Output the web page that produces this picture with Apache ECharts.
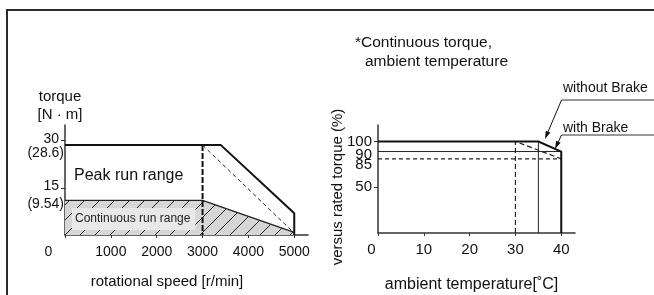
<!DOCTYPE html>
<html>
<head>
<meta charset="utf-8">
<script src="https://cdn.jsdelivr.net/npm/echarts@6/dist/echarts.min.js"></script>
<style>
html, body { margin: 0; padding: 0; background: #fff; }
#chart { width: 654px; height: 295px; }
</style>
</head>
<body>
<div id="chart"></div>
<script>
// 左图：转矩-转速
var speedTicks = [0, 1000, 2000, 3000, 4000, 5000];
var torqueLabels = [30, 28.6, 15, 9.54];
var torqueTicks = [30, 15];
var peakSpeed = [0, 3000, 3400, 5000, 5000];
var peakTorque = [28.6, 28.6, 28.6, 6.9, 0];
var contSpeed = [0, 3000, 5000];
var contTorque = [11, 11, 0.8];
var limitSpeed = [3000, 3000];
var limitTorque = [28.6, 0];
var slopeSpeed = [3000, 5000];
var slopeTorque = [28.6, 0.6];

// 右图：环境温度降额
var tempTicks = [0, 10, 20, 30, 40];
var ratioLabels = [100, 50];
var noBrakeLabel = [90];
var brakeLabel = [85];
var ratioTicks = [100, 50];
var noBrakeTemp = [0, 35, 40, 40];
var noBrakeRatio = [100, 100, 89, 0];
var noBrakeLevelTemp = [0, 40];
var noBrakeLevelRatio = [89, 89];
var kneeTemp = [35, 35];
var kneeRatio = [100, 0];
var brakeTemp = [30, 30, 40];
var brakeRatio = [0, 100, 81];
var brakeLevelTemp = [0, 40];
var brakeLevelRatio = [81, 81];

var FONT = '"Liberation Sans", Arial, Helvetica, sans-serif';
var INK = '#111';

var pairs = function (xs, ys) {
    return xs.map(function (x, i) { return [x, ys[i]]; });
};

// 斜线填充
var hatch = document.createElement('canvas');
hatch.width = 15;
hatch.height = 15;
var hctx = hatch.getContext('2d');
hctx.fillStyle = '#d6d6d6';
hctx.fillRect(0, 0, 15, 15);
hctx.strokeStyle = '#222';
hctx.lineWidth = 1;
hctx.beginPath();
hctx.moveTo(-1, 16);
hctx.lineTo(16, -1);
hctx.stroke();

var lineSeries = function (name, xs, ys, axis, style, extra) {
    var s = {
        name: name,
        type: 'line',
        xAxisIndex: axis,
        yAxisIndex: axis,
        symbol: 'none',
        silent: true,
        animation: false,
        data: pairs(xs, ys),
        lineStyle: style
    };
    if (extra) {
        for (var k in extra) s[k] = extra[k];
    }
    return s;
};

var axisLineStyle = { color: '#333', width: 1.5 };

// 右图 90 / 85 标签挤在一起，各用一根只显示标签的轴
var labelOnlyAxis = function (values, shiftDown) {
    return {
        type: 'value',
        gridIndex: 1,
        position: 'left',
        min: 0,
        max: 118,
        splitLine: { show: false },
        axisLine: { show: false },
        axisTick: { show: false },
        axisLabel: {
            customValues: values,
            margin: 6,
            color: INK,
            formatter: function (v) { return '{s|' + v + '}'; },
            rich: { s: { fontSize: 15, padding: [shiftDown * 2, 0, 0, 0] } }
        }
    };
};

var arrow = function (x1, y1, x2, y2) {
    var dx = x2 - x1, dy = y2 - y1;
    var len = Math.sqrt(dx * dx + dy * dy);
    var ux = dx / len, uy = dy / len;
    var bx = x2 - ux * 8, by = y2 - uy * 8;
    return [{
        type: 'line',
        z: 100,
        shape: { x1: x1, y1: y1, x2: bx, y2: by },
        style: { stroke: INK, lineWidth: 1 }
    }, {
        type: 'polygon',
        z: 100,
        shape: { points: [[x2, y2], [bx - uy * 2.5, by + ux * 2.5], [bx + uy * 2.5, by - ux * 2.5]] },
        style: { fill: INK }
    }];
};

var graphics = [
    { type: 'polyline', shape: { points: [[7, 295], [7, 10], [654, 10]] }, style: { stroke: '#2b2b2b', lineWidth: 2, fill: null } },
    { type: 'text', z: 100, x: 74, y: 176, style: { text: 'Peak run range', font: '16px ' + FONT, fill: INK, verticalAlign: 'middle' } },
    { type: 'text', z: 100, x: 72, y: 219, style: { text: 'Continuous run range', font: '12px ' + FONT, fill: '#222', verticalAlign: 'middle', backgroundColor: '#e8e8e8', padding: [5, 5, 5, 3] } },
    { type: 'text', z: 100, x: 355, y: 43, style: { text: '*Continuous torque,', font: '15.5px ' + FONT, fill: INK, verticalAlign: 'middle' } },
    { type: 'text', z: 100, x: 365, y: 62, style: { text: 'ambient temperature', font: '15.5px ' + FONT, fill: INK, verticalAlign: 'middle' } },
    { type: 'text', z: 100, x: 338, y: 187, rotation: Math.PI / 2, style: { text: 'versus rated torque (%)', font: '15px ' + FONT, fill: INK, align: 'center', verticalAlign: 'middle' } },
    { type: 'text', z: 100, x: 563, y: 88, style: { text: 'without Brake', font: '14px ' + FONT, fill: INK, verticalAlign: 'middle' } },
    { type: 'line', z: 100, shape: { x1: 561.5, y1: 100, x2: 654, y2: 100 }, style: { stroke: '#333', lineWidth: 1 } },
    { type: 'text', z: 100, x: 563, y: 128, style: { text: 'with Brake', font: '14px ' + FONT, fill: INK, verticalAlign: 'middle' } },
    { type: 'line', z: 100, shape: { x1: 561.5, y1: 135, x2: 654, y2: 135 }, style: { stroke: '#333', lineWidth: 1 } }
].concat(arrow(561.5, 100, 545, 139)).concat(arrow(561.5, 135, 555, 149));

var myChart = echarts.init(document.getElementById('chart'), null, { renderer: 'canvas' });
myChart.setOption({
    animation: false,
    backgroundColor: '#fff',
    textStyle: { fontFamily: FONT, color: INK },
    grid: [
        { left: 65, right: 346, top: 125, bottom: 60 },
        { left: 378, right: 79, top: 125, bottom: 62 }
    ],
    xAxis: [{
        type: 'value',
        gridIndex: 0,
        min: 0,
        max: 5300,
        splitLine: { show: false },
        axisLine: { show: true, onZero: false, lineStyle: axisLineStyle },
        axisTick: { show: true, customValues: speedTicks, length: 3, lineStyle: { color: '#333' } },
        axisLabel: {
            customValues: speedTicks,
            margin: 10,
            fontSize: 14,
            color: INK,
            formatter: function (v) { return v === 0 ? '{z|0}' : String(v); },
            rich: { z: { fontSize: 14, padding: [0, 33, 0, 0] } }
        },
        name: 'rotational speed [r/min]',
        nameLocation: 'middle',
        nameGap: 39,
        nameTextStyle: { fontSize: 15, color: INK, padding: [0, 39, 0, 0] }
    }, {
        type: 'value',
        gridIndex: 1,
        min: 0,
        max: 43,
        splitLine: { show: false },
        axisLine: { show: true, onZero: false, lineStyle: axisLineStyle },
        axisTick: { show: true, customValues: tempTicks, length: 3, lineStyle: { color: '#333' } },
        axisLabel: {
            customValues: tempTicks,
            margin: 9,
            fontSize: 15,
            color: INK,
            formatter: function (v) { return v === 0 ? '{z|0}' : String(v); },
            rich: { z: { fontSize: 15, padding: [0, 13, 0, 0] } }
        },
        name: 'ambient temperature[˚C]',
        nameLocation: 'middle',
        nameGap: 44,
        nameTextStyle: { fontSize: 16, color: INK, padding: [0, 10, 0, 0] }
    }],
    yAxis: [{
        type: 'value',
        gridIndex: 0,
        min: 0,
        max: 35,
        splitLine: { show: false },
        axisLine: { show: true, onZero: false, lineStyle: axisLineStyle },
        axisTick: { show: true, customValues: torqueTicks, length: 4, lineStyle: { color: '#333' } },
        axisLabel: {
            customValues: torqueLabels,
            margin: 1,
            fontSize: 14,
            color: INK,
            formatter: function (v) {
                if (v === 28.6) return '{b|(28.6)}';
                if (v === 9.54) return '{c|(9.54)}';
                return '{a|' + v + '}';
            },
            rich: {
                a: { fontSize: 14, padding: [0, 5, 4, 0] },
                b: { fontSize: 14, padding: [17, 0, 0, 0] },
                c: { fontSize: 14, padding: [0, 0, 2, 0] }
            }
        },
        name: 'torque\n[N · m]',
        nameLocation: 'end',
        nameGap: 1,
        nameTextStyle: { fontSize: 15, lineHeight: 18, color: INK, align: 'center', padding: [0, 10, 0, 0] }
    }, {
        type: 'value',
        gridIndex: 1,
        min: 0,
        max: 118,
        splitLine: { show: false },
        axisLine: { show: true, onZero: false, lineStyle: axisLineStyle },
        axisTick: { show: true, customValues: ratioTicks, length: 4, lineStyle: { color: '#333' } },
        axisLabel: {
            customValues: ratioLabels,
            margin: 6,
            fontSize: 15,
            color: INK
        }
    },
    labelOnlyAxis(noBrakeLabel, 4),
    labelOnlyAxis(brakeLabel, 10)],
    series: [
        lineSeries('continuous', contSpeed, contTorque, 0, { color: '#222', width: 1.3 }, {
            areaStyle: { color: { image: hatch, repeat: 'repeat' }, opacity: 1 }
        }),
        lineSeries('peak', peakSpeed, peakTorque, 0, { color: '#111', width: 2 }),
        lineSeries('limit', limitSpeed, limitTorque, 0, { color: '#111', width: 2, type: [6, 2] }),
        lineSeries('slope', slopeSpeed, slopeTorque, 0, { color: '#222', width: 1, type: [4, 3] }),
        lineSeries('noBrakeLevel', noBrakeLevelTemp, noBrakeLevelRatio, 1, { color: '#222', width: 1 }),
        lineSeries('knee', kneeTemp, kneeRatio, 1, { color: '#222', width: 1 }),
        lineSeries('brakeLevel', brakeLevelTemp, brakeLevelRatio, 1, { color: '#222', width: 1.2, type: [4, 3] }),
        lineSeries('brake', brakeTemp, brakeRatio, 1, { color: '#222', width: 1.2, type: [5, 3] }),
        lineSeries('noBrake', noBrakeTemp, noBrakeRatio, 1, { color: '#111', width: 2 })
    ],
    graphic: graphics
});
</script>
</body>
</html>
